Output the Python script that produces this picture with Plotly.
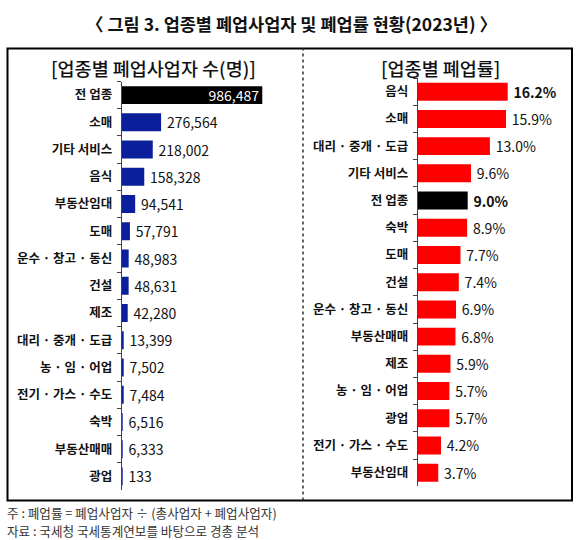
import plotly.graph_objects as go

W, H = 579, 540

# Left panel data: number of closed businesses by industry
left_cats = ["전 업종", "소매", "기타 서비스", "음식", "부동산임대", "도매", "운수 · 창고 · 동신",
             "건설", "제조", "대리 · 중개 · 도급", "농 · 임 · 어업", "전기 · 가스 · 수도",
             "숙박", "부동산매매", "광업"]
left_vals = [986487, 276564, 218002, 158328, 94541, 57791, 48983,
             48631, 42280, 13399, 7502, 7484, 6516, 6333, 133]

# Right panel data: closure rate (%) by industry
right_cats = ["음식", "소매", "대리 · 중개 · 도급", "기타 서비스", "전 업종", "숙박", "도매",
              "건설", "운수 · 창고 · 동신", "부동산매매", "제조", "농 · 임 · 어업",
              "광업", "전기 · 가스 · 수도", "부동산임대"]
right_vals = [16.2, 15.9, 13.0, 9.6, 9.0, 8.9, 7.7, 7.4, 6.9, 6.8, 5.9, 5.7, 5.7, 4.2, 3.7]

TOTAL = "전 업종"
BLUE = "#0c1f9a"
RED = "#ff0000"
FONT = "Noto Sans CJK KR"
NUMFONT = "Noto Sans CJK KR"
PAD = "\u2009"

left_colors = ["#000000" if c == TOTAL else BLUE for c in left_cats]
left_pos = ["inside" if c == TOTAL else "outside" for c in left_cats]
left_text = [(f"{v:,}" if c == TOTAL else f"{PAD}{v:,}") for c, v in zip(left_cats, left_vals)]

right_colors = ["#000000" if c == TOTAL else RED for c in right_cats]
right_bold = {0, right_cats.index(TOTAL)}
right_text = [(f"{PAD}<b>{v:.1f}%</b>" if i in right_bold else f"{PAD}{v:.1f}%") for i, v in enumerate(right_vals)]

fig = go.Figure()
fig.add_trace(go.Bar(
    y=left_cats, x=left_vals, orientation="h", xaxis="x", yaxis="y",
    marker=dict(color=left_colors, line=dict(width=0)), width=0.66,
    text=left_text, textposition=left_pos, insidetextanchor="end",
    insidetextfont=dict(color="white", size=14, family=NUMFONT),
    outsidetextfont=dict(color="#111111", size=14, family=NUMFONT),
    textangle=0, constraintext="none", cliponaxis=False,
    hoverinfo="skip",
))
fig.add_trace(go.Bar(
    y=right_cats, x=right_vals, orientation="h", xaxis="x2", yaxis="y2",
    marker=dict(color=right_colors, line=dict(width=0)), width=0.66,
    text=right_text, textposition="outside",
    outsidetextfont=dict(color="#111111", size=14, family=NUMFONT),
    textangle=0, constraintext="none", cliponaxis=False,
    hoverinfo="skip",
))

def px_x(p):
    return p / W

def px_y(p):
    return 1 - p / H

yaxis_common = dict(
    type="category", autorange="reversed", showgrid=False, zeroline=False,
    showline=True, linecolor="#444444", linewidth=1,
    ticks="outside", ticklen=4, tickcolor="#444444", tickson="boundaries",
    tickfont=dict(family=FONT, size=12.5, color="#111111", weight="bold"),
    ticklabelstandoff=6,
)
xaxis_common = dict(showgrid=False, zeroline=False, showline=False,
                    showticklabels=False, ticks="", fixedrange=True)

fig.update_layout(
    width=W, height=H, margin=dict(l=0, r=0, t=0, b=0),
    paper_bgcolor="white", plot_bgcolor="white", showlegend=False,
    font=dict(family=FONT, color="#111111"),
    bargap=0.34,
    xaxis=dict(domain=[px_x(121.7), px_x(292.7)], range=[0, 1.2e6], anchor="y", **xaxis_common),
    yaxis=dict(domain=[px_y(490), px_y(81.5)], anchor="x", **yaxis_common),
    xaxis2=dict(domain=[px_x(417.7), px_x(567.7)], range=[0, 27], anchor="y2", **xaxis_common),
    yaxis2=dict(domain=[px_y(486.3), px_y(78.1)], anchor="x2", **yaxis_common),
)

shapes = [
    dict(type="rect", xref="paper", yref="paper",
         x0=px_x(7.5), x1=px_x(572), y0=px_y(500.5), y1=px_y(48.5),
         line=dict(color="#000000", width=2), fillcolor="rgba(0,0,0,0)", layer="above"),
    dict(type="line", xref="paper", yref="paper",
         x0=px_x(303), x1=px_x(303), y0=px_y(500.5), y1=px_y(48.5),
         line=dict(color="#333333", width=1.5, dash="dot"), layer="above"),
]
fig.update_layout(shapes=shapes)

annotations = [
    dict(text="〈 그림 3. 업종별 폐업사업자 및 폐업률 현황(2023년) 〉", x=px_x(291), y=px_y(23),
         font=dict(size=17.5, family=FONT, color="#111111", weight=600)),
    dict(text="[업종별 폐업사업자 수(명)]", x=px_x(153), y=px_y(68),
         font=dict(size=18.5, family=FONT, color="#111111", weight=500)),
    dict(text="[업종별 폐업률]", x=px_x(440), y=px_y(68),
         font=dict(size=18.5, family=FONT, color="#111111", weight=500)),
]
for a in annotations:
    a.update(xref="paper", yref="paper", showarrow=False, xanchor="center", yanchor="middle")

notes = ["주 : 폐업률 = 폐업사업자 ÷ (총사업자 + 폐업사업자)",
         "자료 : 국세청 국세통계연보를 바탕으로 경총 분석"]
for i, n in enumerate(notes):
    annotations.append(dict(text=n, xref="paper", yref="paper", x=px_x(5), y=px_y(512 + 18 * i),
                            xanchor="left", yanchor="middle", showarrow=False,
                            font=dict(size=12.6, family=FONT, color="#333333")))
fig.update_layout(annotations=annotations)

fig.write_html("out.html")
